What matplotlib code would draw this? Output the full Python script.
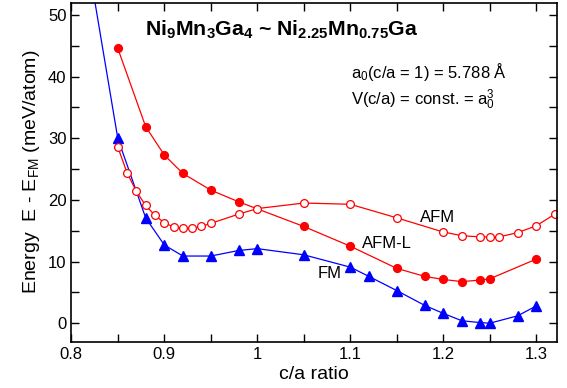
import matplotlib
matplotlib.use('Agg')
from matplotlib import pyplot as plt
from matplotlib.ticker import MultipleLocator

plt.rcParams['font.family'] = ['Liberation Sans', 'DejaVu Sans']
plt.rcParams['mathtext.fontset'] = 'custom'
plt.rcParams['mathtext.rm'] = 'Liberation Sans'
plt.rcParams['mathtext.it'] = 'Liberation Sans'
plt.rcParams['mathtext.bf'] = 'Liberation Sans:bold'

# FM (blue triangles)
fm_x = [0.82, 0.85, 0.88, 0.90, 0.92, 0.95, 0.98, 1.00, 1.05, 1.10, 1.12, 1.15, 1.18, 1.20, 1.22, 1.24, 1.25, 1.28, 1.30]
fm_y = [57.0, 30.0, 17.1, 12.7, 10.9, 10.9, 11.8, 12.1, 11.1, 9.1, 7.6, 5.3, 2.9, 1.6, 0.4, 0.1, 0.0, 1.2, 2.8]

# AFM-L (filled red circles)
afml_x = [0.85, 0.88, 0.90, 0.92, 0.95, 0.98, 1.05, 1.10, 1.15, 1.18, 1.20, 1.22, 1.24, 1.25, 1.30]
afml_y = [44.6, 31.9, 27.3, 24.3, 21.6, 19.7, 15.7, 12.5, 8.9, 7.6, 7.1, 6.75, 7.0, 7.2, 10.4]

# AFM (open red circles)
afm_x = [0.85, 0.86, 0.87, 0.88, 0.89, 0.90, 0.91, 0.92, 0.93, 0.94, 0.95, 0.98, 1.00, 1.05,
         1.10, 1.15, 1.20, 1.22, 1.24, 1.25, 1.26, 1.28, 1.30, 1.32]
afm_y = [28.6, 24.4, 21.4, 19.1, 17.5, 16.3, 15.6, 15.4, 15.4, 15.7, 16.2, 17.7, 18.6, 19.5,
         19.3, 17.1, 14.8, 14.2, 14.0, 14.0, 14.0, 14.7, 15.8, 17.7]

fig = plt.figure(figsize=(5.67, 3.88), dpi=100)
ax = fig.add_axes([0.1257, 0.1193, 0.8561, 0.8737])

ax.plot(fm_x, fm_y, color='blue', lw=0.9, marker='^', ms=7, mfc='blue', mec='blue')
ax.plot(afml_x, afml_y, color='red', lw=0.9, marker='o', ms=5.6, mfc='red', mec='red')
ax.plot(afm_x, afm_y, color='red', lw=0.9, marker='o', ms=5.6, mfc='white', mec='red', mew=0.9)

ax.set_xlim(0.8, 1.322)
ax.set_ylim(-3, 52)
ax.xaxis.set_minor_locator(MultipleLocator(0.05))
ax.yaxis.set_major_locator(MultipleLocator(10))
ax.yaxis.set_minor_locator(MultipleLocator(5))
ax.set_xticks([0.8, 0.9, 1.0, 1.1, 1.2, 1.3], ['0.8', '0.9', '1', '1.1', '1.2', '1.3'])
ax.tick_params(which='both', direction='in', top=True, right=True, length=6, width=1,
               labelsize=12)
for s in ax.spines.values():
    s.set_linewidth(1.2)

ax.set_xlabel('c/a ratio', fontsize=14, labelpad=3)
ax.set_ylabel(r'Energy  E - E$_{\rm FM}$ (meV/atom)', fontsize=14, labelpad=4)

ax.text(0.433, 0.919, r'$\mathbf{Ni_9Mn_3Ga_4}$ ~ $\mathbf{Ni_{2.25}Mn_{0.75}Ga}$',
        transform=ax.transAxes, ha='center', va='center', fontsize=15.3, fontweight='bold')
ax.text(0.5756, 0.796, r'a$_0$(c/a = 1) = 5.788 Å', transform=ax.transAxes,
        ha='left', va='center', fontsize=12)
ax.text(0.5756, 0.713, r'V(c/a) = const. = a$_0^3$', transform=ax.transAxes,
        ha='left', va='center', fontsize=12)

ax.text(1.194, 17.2, 'AFM', ha='center', va='center', fontsize=12)
ax.text(1.139, 12.9, 'AFM-L', ha='center', va='center', fontsize=12)
ax.text(1.078, 8.0, 'FM', ha='center', va='center', fontsize=12)

fig.savefig('out.png', dpi=100)
